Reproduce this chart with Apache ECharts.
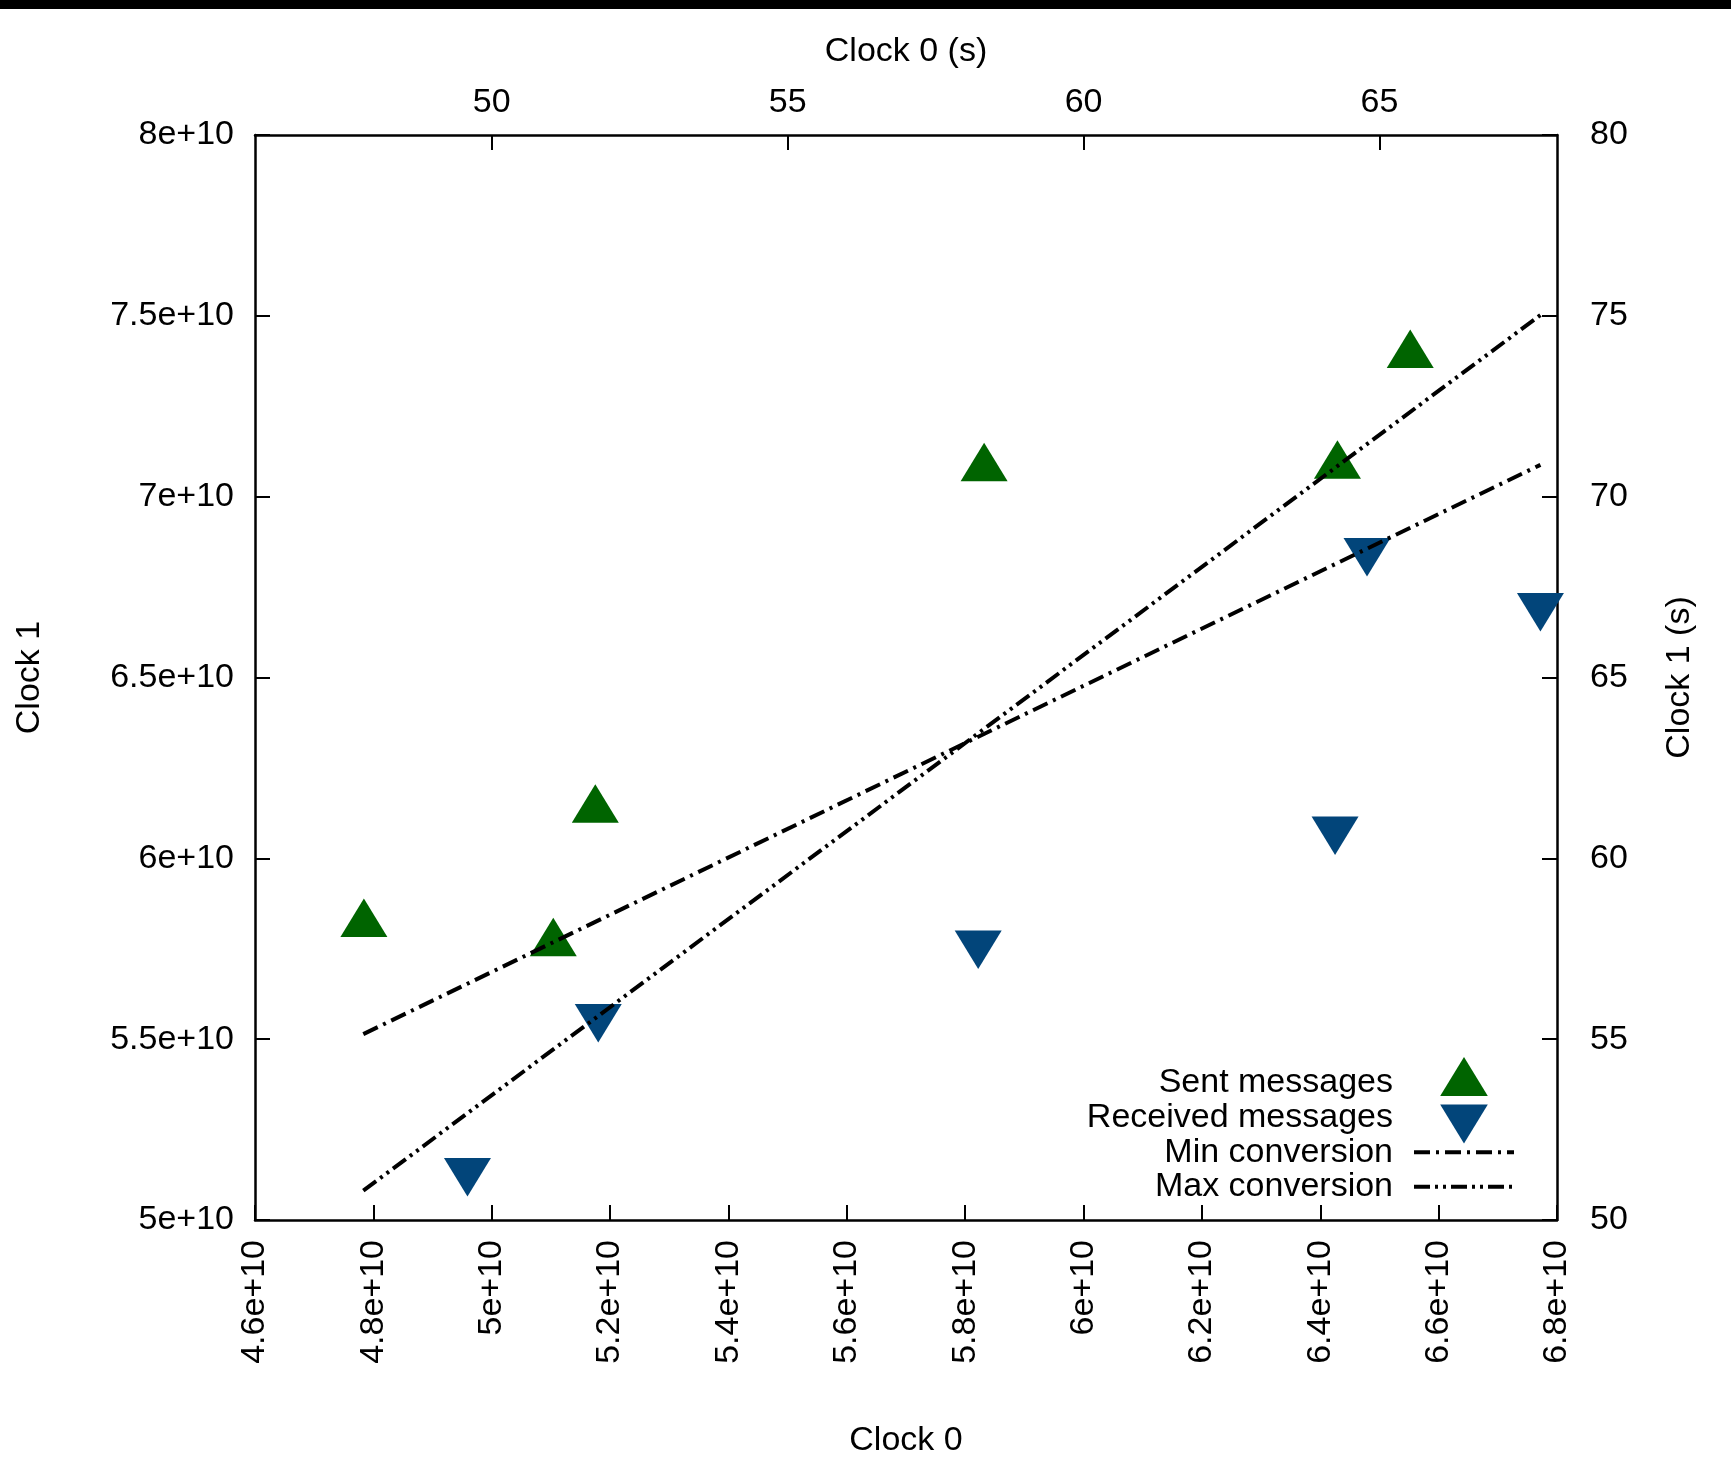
<!DOCTYPE html>
<html><head><meta charset="utf-8">
<script src="https://cdn.jsdelivr.net/npm/echarts@6/dist/echarts.min.js"></script>
<style>html,body{margin:0;padding:0;background:#fff}#c{width:1731px;height:1478px}</style>
</head><body><div id="c"></div>
<script>
// ---- data ----
const sentX = [4.784e10, 5.104e10, 5.175e10, 5.832e10, 6.429e10, 6.552e10];
const sentY = [5.818e10, 5.765e10, 6.134e10, 7.078e10, 7.085e10, 7.391e10];
const recvX = [4.959e10, 5.180e10, 5.822e10, 6.425e10, 6.479e10, 6.772e10];
const recvY = [5.136e10, 5.562e10, 5.765e10, 6.080e10, 6.850e10, 6.698e10];
const minConvX = [4.783e10, 6.772e10];
const minConvY = [5.514e10, 7.088e10];
const maxConvX = [4.783e10, 6.772e10];
const maxConvY = [5.081e10, 7.502e10];
const seriesNames = ['Sent messages', 'Received messages', 'Min conversion', 'Max conversion'];
const topTickValues = [50, 55, 60, 65];   // Clock 0 (s)
const rightTickRange = [50, 80, 5];      // Clock 1 (s)

const FONT = 'Liberation Sans';
const FS = 34;
const GREEN = '#006400';
const BLUE = '#02457a';
const MIN_DASH = [16, 6, 3, 6];
const MAX_DASH = [16, 5, 3, 5, 3, 5];
const fmtE10 = v => (Math.round(v / 1e9) / 10) + 'e+10';
const pairs = (xs, ys) => xs.map((x, i) => [x, ys[i]]);

// triangle paths with the marker centroid at the box centre (gnuplot style)
const UP = 'path://M0,38.5 L23.5,0 L47,38.5 Z M23.5,51.3';
const DOWN = 'path://M0,12.8 L47,12.8 L23.5,51.3 Z M23.5,0';

const axisLine = { show: true, onZero: false, lineStyle: { color: '#000', width: 2.5 } };
const axisTick = { show: true, inside: true, length: 15, lineStyle: { color: '#000', width: 2 } };
const lbl = { color: '#000', fontSize: FS, fontFamily: FONT };
const nameStyle = { color: '#000', fontSize: FS, fontFamily: FONT };

const chart = echarts.init(document.getElementById('c'), null, { renderer: 'canvas' });
chart.setOption({
  backgroundColor: '#fff',
  animation: false,
  textStyle: { fontFamily: FONT },
  graphic: [{ type: 'rect', left: 0, top: 0, shape: { width: 1731, height: 9 }, style: { fill: '#000' }, z: 100 }],
  grid: { left: 255, right: 174, top: 135, bottom: 258, containLabel: false },
  legend: {
    orient: 'vertical', align: 'right', right: 215, top: 1057, padding: 0,
    itemWidth: 100, itemHeight: 52, itemGap: -17.4,
    lineStyle: { width: 4 },
    data: [
      { name: seriesNames[0] },
      { name: seriesNames[1] },
      { name: seriesNames[2], itemStyle: { opacity: 0 }, lineStyle: { width: 4, type: MIN_DASH, color: '#000' } },
      { name: seriesNames[3], itemStyle: { opacity: 0 }, lineStyle: { width: 4, type: MAX_DASH, color: '#000' } }
    ],
    textStyle: { color: '#000', fontSize: FS, fontFamily: FONT, lineHeight: 52, padding: [0, 16, 0, 0] }
  },
  xAxis: [
    {
      type: 'value', position: 'bottom', min: 4.6e10, max: 6.8e10, interval: 2e9,
      name: 'Clock 0', nameLocation: 'middle', nameGap: 204, nameTextStyle: nameStyle,
      axisLine, axisTick, splitLine: { show: false },
      axisLabel: Object.assign({ rotate: 90, margin: 20, formatter: fmtE10 }, lbl)
    },
    {
      type: 'value', position: 'top', min: 46, max: 68,
      name: 'Clock 0 (s)', nameLocation: 'middle', nameGap: 66, nameTextStyle: nameStyle,
      axisLine, axisTick: Object.assign({ customValues: topTickValues }, axisTick), splitLine: { show: false },
      axisLabel: Object.assign({ margin: 15, customValues: topTickValues }, lbl)
    }
  ],
  yAxis: [
    {
      type: 'value', position: 'left', min: 5e10, max: 8e10, interval: 5e9,
      name: 'Clock 1', nameLocation: 'middle', nameGap: 208, nameRotate: 90, nameTextStyle: nameStyle,
      axisLine, axisTick, splitLine: { show: false },
      axisLabel: Object.assign({ margin: 21, formatter: fmtE10 }, lbl)
    },
    {
      type: 'value', position: 'right', min: rightTickRange[0], max: rightTickRange[1], interval: rightTickRange[2],
      name: 'Clock 1 (s)', nameLocation: 'middle', nameGap: 106, nameRotate: 90, nameTextStyle: nameStyle,
      axisLine, axisTick, splitLine: { show: false },
      axisLabel: Object.assign({ margin: 33 }, lbl)
    }
  ],
  series: [
    { name: seriesNames[0], type: 'scatter', xAxisIndex: 0, yAxisIndex: 0, symbol: UP, symbolSize: [47, 51.3],
      itemStyle: { color: GREEN, opacity: 1 }, data: pairs(sentX, sentY), z: 3 },
    { name: seriesNames[1], type: 'scatter', xAxisIndex: 0, yAxisIndex: 0, symbol: DOWN, symbolSize: [47, 51.3],
      itemStyle: { color: BLUE, opacity: 1 }, data: pairs(recvX, recvY), z: 3 },
    { name: seriesNames[2], type: 'line', xAxisIndex: 0, yAxisIndex: 0, symbol: 'none', showSymbol: false,
      lineStyle: { color: '#000', width: 4, type: MIN_DASH, cap: 'butt' }, itemStyle: { color: '#000' },
      data: pairs(minConvX, minConvY), z: 4 },
    { name: seriesNames[3], type: 'line', xAxisIndex: 0, yAxisIndex: 0, symbol: 'none', showSymbol: false,
      lineStyle: { color: '#000', width: 4, type: MAX_DASH, cap: 'butt' }, itemStyle: { color: '#000' },
      data: pairs(maxConvX, maxConvY), z: 4 }
  ]
});
</script>
</body></html>
